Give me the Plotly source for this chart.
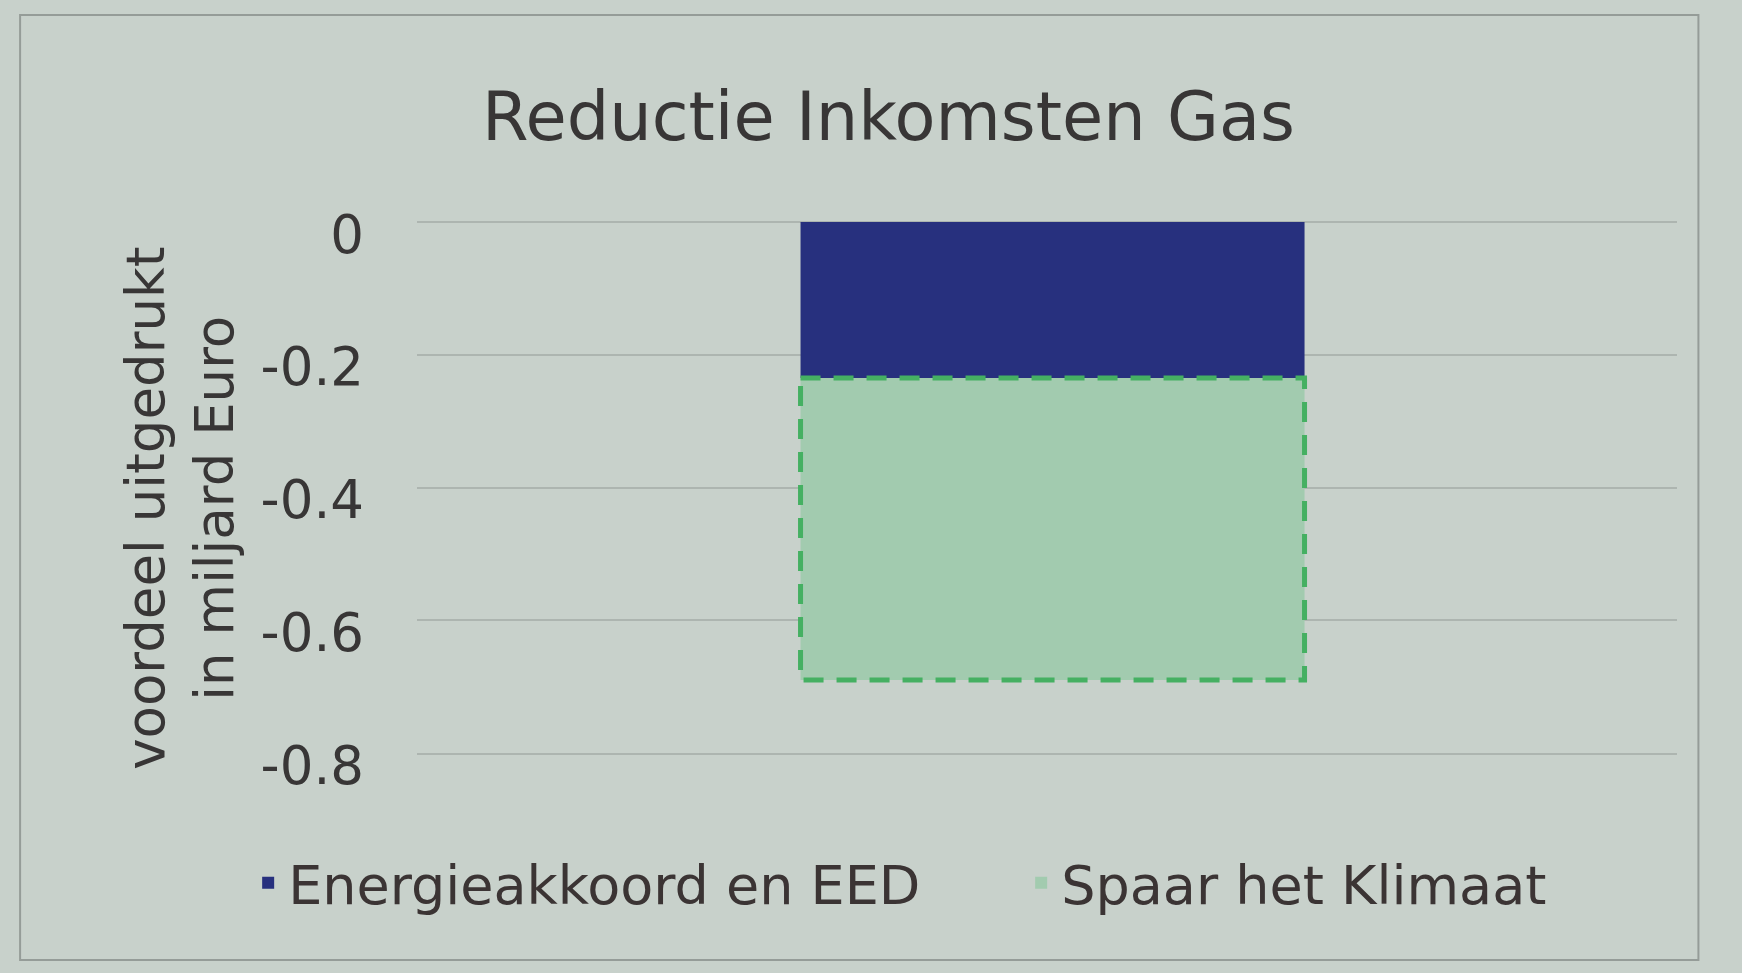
import plotly.graph_objects as go

# ---- data ----
categories = ["Gas"]
series_names = ["Energieakkoord en EED", "Spaar het Klimaat"]
energieakkoord = [-0.235]
spaar_klimaat = [-0.455]
tick_values = [0, -0.2, -0.4, -0.6, -0.8]
tick_labels = ["0", "-0.2", "-0.4", "-0.6", "-0.8"]

title_text = "Reductie Inkomsten Gas"
y_title = "voordeel uitgedrukt<br>in miljard Euro"

# ---- style ----
FONT = "DejaVu Sans"
BG = "#c8d1cb"
GRID = "#adb5b0"
TEXT = "#383636"
BLUE = "#27307e"
GREEN_FILL = "#a2cbaf"
GREEN_LINE = "#45b062"
BAR_WIDTH = 0.4

fig = go.Figure()
fig.add_trace(go.Bar(
    x=categories, y=energieakkoord, name=series_names[0],
    marker=dict(color=BLUE, line=dict(width=0)), width=BAR_WIDTH,
    legendwidth=728,
))
fig.add_trace(go.Bar(
    x=categories, y=spaar_klimaat, name=series_names[1],
    marker=dict(color=GREEN_FILL, line=dict(width=0)), width=BAR_WIDTH,
    legendwidth=490,
))

# dashed outline of the green segment, derived from the data
for i, cat in enumerate(categories):
    base = energieakkoord[i]
    top = energieakkoord[i] + spaar_klimaat[i]
    fig.add_shape(
        type="rect", xref="x", yref="y",
        x0=i - BAR_WIDTH / 2, x1=i + BAR_WIDTH / 2, y0=base, y1=top,
        line=dict(color=GREEN_LINE, width=5, dash="20px,13px"),
        fillcolor="rgba(0,0,0,0)", layer="above",
    )

# outer chart frame
fig.add_shape(
    type="rect", xref="paper", yref="paper",
    x0=-0.315, x1=1.017, y0=-0.39, y1=1.39,
    line=dict(color="#959c98", width=2), fillcolor="rgba(0,0,0,0)", layer="below",
)

fig.add_annotation(
    text=y_title, xref="paper", yref="paper",
    x=-0.188, y=0.46, xanchor="center", yanchor="middle",
    textangle=-90, showarrow=False,
    font=dict(family=FONT, size=53, color=TEXT), align="center",
)

fig.update_layout(
    width=1742, height=973,
    margin=dict(l=417, r=65, t=222, b=220),
    paper_bgcolor=BG, plot_bgcolor=BG,
    barmode="relative",
    font=dict(family=FONT, color=TEXT),
    title=dict(
        text=title_text, x=0.51, xref="container", xanchor="center",
        y=1 - 117 / 973, yref="container", yanchor="middle",
        font=dict(family=FONT, size=67, color=TEXT),
    ),
    xaxis=dict(
        showticklabels=False, showgrid=False, zeroline=False,
        showline=True, linecolor=GRID, linewidth=2, range=[-0.5044, 0.4956],
    ),
    yaxis=dict(
        range=[-0.8, 0], tickvals=tick_values, ticktext=tick_labels,
        showgrid=True, gridcolor=GRID, gridwidth=2,
        zeroline=True, zerolinecolor=GRID, zerolinewidth=2,
        showline=False, ticks="",
        tickfont=dict(family=FONT, size=53, color=TEXT),
        ticklabelstandoff=52, ticklabelshift=12,
    ),
    showlegend=True,
    legend=dict(
        orientation="h", x=-0.134, xanchor="left",
        y=-0.245, yanchor="middle",
        font=dict(family=FONT, size=54, color="#3b3434"),
        bgcolor="rgba(0,0,0,0)",
        traceorder="normal",
    ),
)

fig.write_html(
    "out.html",
    config={"displayModeBar": False},
    post_script="document.body.style.margin='0';",
)
